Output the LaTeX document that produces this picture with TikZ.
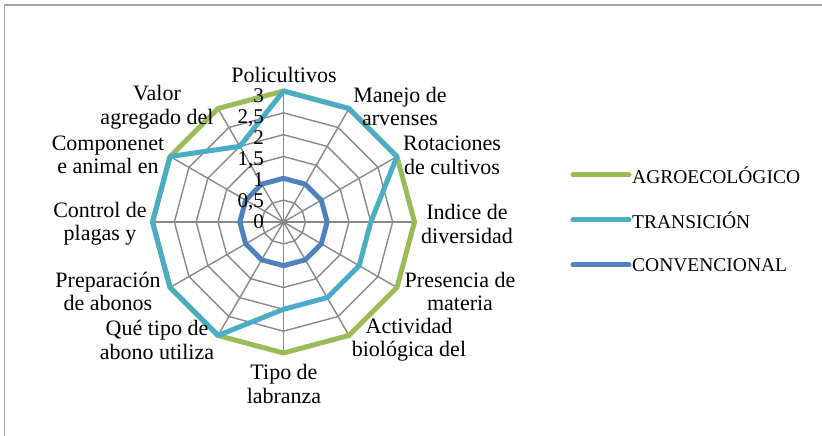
\documentclass[tikz,border=0pt]{standalone}
\usepackage{fontspec}
\setmainfont{Liberation Serif}
\usetikzlibrary{positioning}

\definecolor{agroGreen}{HTML}{9BBB59}
\definecolor{transBlue}{HTML}{4BACC6}
\definecolor{convBlue}{HTML}{4F81BD}
\definecolor{gridGray}{HTML}{888888}
\definecolor{frameGray}{HTML}{A6A6A6}
\newcommand{\unitR}{43.667}

\begin{document}
\begin{tikzpicture}[x=1pt,y=1pt,
	grid/.style={draw=gridGray,line width=1.4pt},
	serie/.style={line width=5pt,line join=round,line cap=round},
	agro/.style={serie,draw=agroGreen},
	trans/.style={serie,draw=transBlue},
	conv/.style={serie,draw=convBlue},
	axlabel/.style={font=\fontsize{22}{23.5}\selectfont,align=center,inner sep=0pt},
	ticklabel/.style={font=\fontsize{21}{23}\selectfont,anchor=base east,inner sep=0pt},
	legtext/.style={font=\fontsize{19.5}{22}\selectfont,anchor=west,inner sep=3pt}]

	\useasboundingbox (-283.5,-214) rectangle (538.5,222);

	% Frame
	\draw[frameGray,line width=1.3pt] (-279,-214) -- (-279,217) -- (538.5,217);

	% Grid rings and spokes
	\foreach \r in {0.5,1,...,3}
		\draw[grid] (90:{\r*\unitR}) \foreach \a in {60,30,...,-240} { -- (\a:{\r*\unitR}) } -- cycle;
	\foreach \i in {0,...,11}
		\draw[grid] (0,0) -- ({90-30*\i}:{3*\unitR});

	% Series points
	\foreach \v [count=\i from 0] in {3,3,3,3,3,3,3,3,3,3,3,3}
		\coordinate (g\i) at ({90-30*\i}:{\v*\unitR});
	\foreach \v [count=\i from 0] in {3,3,3,2,2,2,2,3,3,3,3,2}
		\coordinate (t\i) at ({90-30*\i}:{\v*\unitR});
	\foreach \v [count=\i from 0] in {1,1,1,1,1,1,1,1,1,1,1,1}
		\coordinate (c\i) at ({90-30*\i}:{\v*\unitR});

	% Series lines
	\draw[agro] (g0) -- (g1) -- (g2) -- (g3) -- (g4) -- (g5) -- (g6) -- (g7) -- (g8) -- (g9) -- (g10) -- (g11) -- cycle;
	\draw[trans] (t0) -- (t1) -- (t2) -- (t3) -- (t4) -- (t5) -- (t6) -- (t7) -- (t8) -- (t9) -- (t10) -- (t11) -- cycle;
	\draw[conv] (c0) -- (c1) -- (c2) -- (c3) -- (c4) -- (c5) -- (c6) -- (c7) -- (c8) -- (c9) -- (c10) -- (c11) -- cycle;

	% Scale
	\foreach \v/\t [count=\k] in {0/0,0.5/{0,5},1/1,1.5/{1,5},2/2,2.5/{2,5},3/3}
		\node[ticklabel] (tick\k) at (-19.5,{\v*42-7}) {\t};

	% Axis labels
	\node[axlabel] (policultivos) at (0.5,147.3) {Policultivos};
	\node[axlabel] (manejo) at (116.5,115.5) {Manejo de\\arvenses};
	\node[axlabel] (rotaciones) at (168.5,66.5) {Rotaciones\\de cultivos};
	\node[axlabel] (indice) at (183.5,-2) {Indice de\\diversidad};
	\node[axlabel] (presencia) at (176.5,-69.5) {Presencia de\\materia};
	\node[axlabel] (actividad) at (125.5,-117.5) {Actividad\\biológica del};
	\node[axlabel] (labranza) at (0.5,-162) {Tipo de\\labranza};
	\node[axlabel] (abono) at (-126.5,-118) {Qué tipo de\\abono utiliza};
	\node[axlabel] (preparacion) at (-175.5,-69.5) {Preparación\\de abonos};
	\node[axlabel] (control) at (-183.5,-1.5) {Control de\\plagas y};
	\node[axlabel] (componente) at (-175.5,67) {Componenet\\e animal en};
	\node[axlabel] (valor) at (-126.5,115) {Valor\\agregado del};

	% Legend
	\coordinate (la) at (289.5,47);
	\coordinate (lt) at (289.5,2);
	\coordinate (lc) at (289.5,-43);
	\node[legtext,right=56pt of la] (lgA) {AGROECOLÓGICO};
	\node[legtext,right=56pt of lt] (lgT) {TRANSICIÓN};
	\node[legtext,right=56pt of lc] (lgC) {CONVENCIONAL};
	\draw[agro] (la) -- (lgA.west);
	\draw[trans] (lt) -- (lgT.west);
	\draw[conv] (lc) -- (lgC.west);
\end{tikzpicture}
\end{document}
